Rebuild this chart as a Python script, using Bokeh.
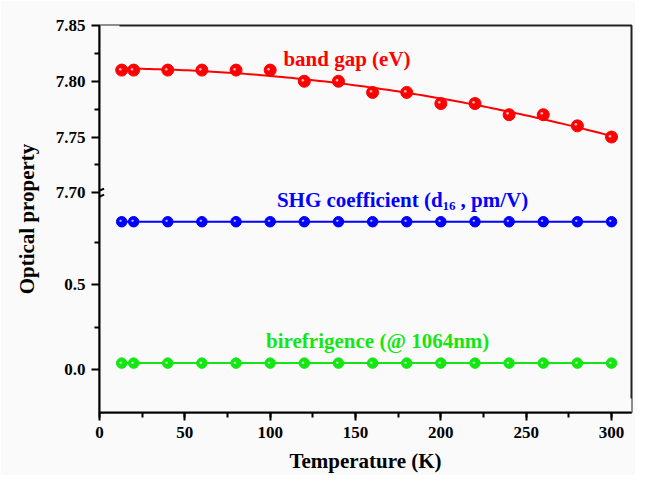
import numpy as np
from bokeh.plotting import figure
from bokeh.models import (Range1d, FixedTicker, SingleIntervalTicker, Arrow, BoxAnnotation,
                          ColumnDataSource, CustomJSTickFormatter)
from bokeh.core.properties import value
from bokeh.embed import file_html
from bokeh.resources import INLINE

# ---------------- data ----------------
temperature = [13, 20, 40, 60, 80, 100, 120, 140, 160, 180, 200, 220, 240, 260, 280, 300]
band_gap = [7.81, 7.81, 7.81, 7.81, 7.81, 7.81, 7.80, 7.80, 7.79, 7.79, 7.78, 7.78, 7.77, 7.77, 7.76, 7.75]
shg_d16 = [0.87, 0.87, 0.87, 0.87, 0.87, 0.87, 0.87, 0.87, 0.87, 0.87, 0.87, 0.87, 0.87, 0.87, 0.87, 0.87]
birefringence = [0.04, 0.04, 0.04, 0.04, 0.04, 0.04, 0.04, 0.04, 0.04, 0.04, 0.04, 0.04, 0.04, 0.04, 0.04, 0.04]

low_ticks = [0.0, 0.5]
low_minor = [0.25, 0.75]
high_ticks = [7.70, 7.75, 7.80, 7.85]
high_minor = [7.725, 7.775, 7.825]

# broken y axis: lower segment and upper segment
LOW = (-0.25, 1.04)
HIGH = (7.70, 7.85)
LOW_PX, HIGH_PX = 222, 169          # frame height share of each segment
X_END = 311.7

y_end = LOW[0] + (LOW[1] - LOW[0]) * (LOW_PX + HIGH_PX) / LOW_PX
top_start = HIGH[0] - (HIGH[1] - HIGH[0]) * LOW_PX / HIGH_PX


def hi_to_lo(v):
    return LOW[1] + (v - HIGH[0]) / (HIGH[1] - HIGH[0]) * (y_end - LOW[1])


FONT = "Liberation Serif"
BG = "#fafafa"
RED, BLUE, GREEN = "#ff0000", "#0000ff", "#14e614"

p = figure(width=635, height=475, output_backend="svg", toolbar_location=None,
           x_range=Range1d(0, X_END), y_range=Range1d(LOW[0], y_end),
           min_border_left=99, min_border_right=4, min_border_top=25, min_border_bottom=59)
p.extra_y_ranges = {"top": Range1d(top_start, HIGH[1])}

p.background_fill_color = BG
p.border_fill_color = BG
p.outline_line_color = "#222222"
p.outline_line_width = 2
p.xgrid.visible = False
p.ygrid.visible = False

scr = dict(left_units="screen", right_units="screen", top_units="screen", bottom_units="screen",
           level="underlay")
p.add_layout(BoxAnnotation(left=0, right=20, top=0, bottom=475, fill_color=BG, fill_alpha=1,
                           line_color=None, **scr))
p.add_layout(BoxAnnotation(left=0, right=635, top=0, bottom=14, fill_color=BG, fill_alpha=1,
                           line_color=None, **scr))
p.add_layout(BoxAnnotation(left=1, right=700, top=1, bottom=700, fill_alpha=0,
                           line_color=BG, line_width=1.5, **scr))

# axes
for ax in (p.xaxis[0], p.yaxis[0]):
    ax.axis_line_width = 2
    ax.major_tick_line_width = 2
    ax.minor_tick_line_width = 2
    ax.major_tick_in = 0
    ax.major_tick_out = 8
    ax.minor_tick_in = 0
    ax.minor_tick_out = 5
    ax.major_label_text_font = FONT
    ax.major_label_text_font_style = "bold"
    ax.major_label_text_font_size = "17px"
    ax.major_label_text_color = "black"
    ax.axis_label_text_font = FONT
    ax.axis_label_text_font_style = "bold"
    ax.axis_label_text_font_size = "21px"
    ax.axis_label_text_color = "black"
    ax.major_label_standoff = 6

p.xaxis.ticker = SingleIntervalTicker(interval=50, num_minor_ticks=2)
p.xaxis.axis_label = "Temperature (K)"
p.xaxis.axis_label_standoff = 8

p.yaxis.ticker = FixedTicker(ticks=low_ticks + [hi_to_lo(v) for v in high_ticks],
                             minor_ticks=low_minor + [hi_to_lo(v) for v in high_minor])
p.yaxis.formatter = CustomJSTickFormatter(
    args=dict(lo1=LOW[1], yend=y_end, h0=HIGH[0], h1=HIGH[1]),
    code="""
    if (tick >= lo1 - 1e-9) {
        const v = h0 + (tick - lo1) / (yend - lo1) * (h1 - h0);
        return v.toFixed(2);
    }
    return tick.toFixed(1);
""")
p.yaxis.axis_label = "Optical property"
p.yaxis.axis_label_standoff = 14

# axis break marks
for dy in (0.006, -0.029):
    p.add_layout(Arrow(start=None, end=None, x_start=-5.5, x_end=2.7,
                       y_start=LOW[1] + dy - 0.018, y_end=LOW[1] + dy + 0.018,
                       line_color="black", line_width=2))

# fit of band gap
coef = np.polyfit(temperature, band_gap, 2)
t_fit = np.linspace(temperature[0], temperature[-1], 120)
e_fit = np.polyval(coef, t_fit)
p.line(t_fit, e_fit, y_range_name="top", line_color=RED, line_width=2)

src = ColumnDataSource(dict(t=temperature, eg=band_gap, shg=shg_d16, dn=birefringence,
                            dot=["\u25cf"] * len(temperature)))

p.line("t", "shg", source=src, line_color=BLUE, line_width=2)
p.line("t", "dn", source=src, line_color=GREEN, line_width=2)

p.scatter("t", "eg", source=src, y_range_name="top", size=12, color=RED)
p.scatter("t", "shg", source=src, size=10.5, color=BLUE)
p.scatter("t", "dn", source=src, size=10.5, color=GREEN)

# sphere highlights
for col, hl, rng, fs in (("eg", "#ffc0c0", "top", "6px"), ("shg", "#c0c0ff", "default", "5px"),
                         ("dn", "#d0ffd0", "default", "5px")):
    p.text("t", col, text="dot", source=src, y_range_name=rng, x_offset=-1.5, y_offset=-1.5,
           text_align="center", text_baseline="middle", text_font_size=fs, text_color=hl)

# series labels
lab = dict(text_font=value(FONT), text_font_style="bold", text_font_size="21px")
p.text(x=[145], y=[7.820], text=["band gap (eV)"], y_range_name="top", text_color=RED,
       text_align="center", text_baseline="middle", **lab)
p.text(x=[201], y=[1.0], text=["SHG coefficient (d"], text_color=BLUE,
       text_align="right", text_baseline="middle", **lab)
p.text(x=[201], y=[1.0], text=["16"], text_color=BLUE, y_offset=6,
       text_align="left", text_baseline="middle", text_font=value(FONT),
       text_font_style="bold", text_font_size="13px")
p.text(x=[201], y=[1.0], text=[", pm/V)"], text_color=BLUE, x_offset=18,
       text_align="left", text_baseline="middle", **lab)
p.text(x=[163], y=[0.17], text=["birefrigence (@ 1064nm)"], text_color=GREEN,
       text_align="center", text_baseline="middle", **lab)

open("out.html", "w").write(file_html(p, INLINE))
